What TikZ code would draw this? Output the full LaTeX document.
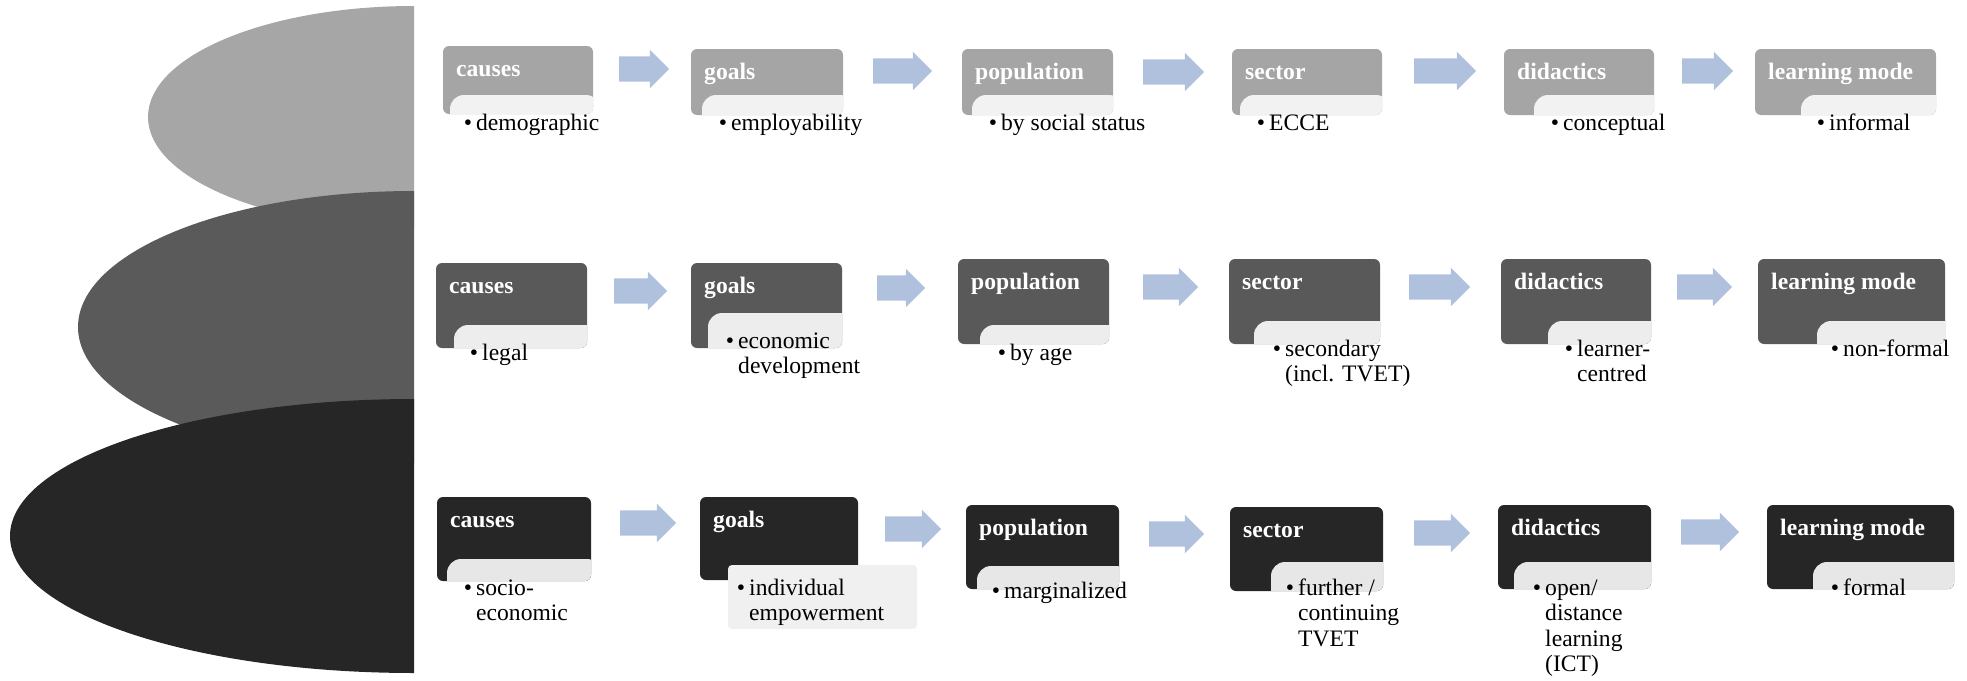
\documentclass[tikz,border=0pt]{standalone}
\usepackage{fontspec}
\setmainfont{Liberation Serif}
\usetikzlibrary{shapes.arrows}
\definecolor{ringA}{HTML}{A6A6A6}
\definecolor{ringB}{HTML}{5A5A5A}
\definecolor{ringC}{HTML}{262626}
\definecolor{boxA}{HTML}{A5A5A5}
\definecolor{boxB}{HTML}{595959}
\definecolor{boxC}{HTML}{262626}
\definecolor{stripA}{HTML}{F2F2F2}
\definecolor{stripB}{HTML}{EDEDED}
\definecolor{stripC}{HTML}{E7E7E7}
\definecolor{note}{HTML}{F0F0F0}
\definecolor{flowblue}{HTML}{B0C1DD}
\newcommand{\bodyfont}{\fontsize{23.6pt}{25.5pt}\selectfont}
\begin{document}
\begin{tikzpicture}[x=1pt,y=-1pt,font=\bodyfont,
	box/.style={rounded corners=6pt,inner sep=0pt,outer sep=0pt,anchor=north west},
	head/.style={font=\bodyfont\bfseries,text=white,anchor=base west,inner sep=0pt},
	item/.style={font=\bodyfont,align=left,anchor=north west,inner sep=0pt},
	flow/.style={single arrow,single arrow head extend=6.5pt,inner xsep=0pt,inner ysep=12.5pt,outer sep=0pt,anchor=tail,fill=flowblue}]
	\useasboundingbox (0,0) rectangle (1967,680);
	% half discs on the left
	\begin{scope}
		\clip (0,0) rectangle (414,680);
		\fill[ringA] (414,117) ellipse [x radius=266pt,y radius=111pt];
		\fill[ringB] (414,327) ellipse [x radius=336pt,y radius=136pt];
		\fill[ringC] (414,536) ellipse [x radius=404pt,y radius=137pt];
	\end{scope}
	% stages: name/x/y/w/h/strip x/strip y/head/text x/text y/text/colour
	\foreach \nm/\bx/\by/\bw/\bh/\sx/\sy/\hd/\tx/\ty/\txt/\col in {
		c1/443/46/150/68/450/95/causes/476/130/demographic/A,
		g1/691/49/152/66/702/95/goals/731/130/employability/A,
		p1/962/49/151/66/972/95/population/1001/130/by social status/A,
		s1/1232/49/150/66/1240/95/sector/1269/130/ECCE/A,
		d1/1504/49/150/66/1534/95/didactics/1563/130/conceptual/A,
		m1/1755/49/181/66/1801/95/learning mode/1829/130/informal/A,
		c2/436/263/151/85/454/325/causes/482/360/legal/B,
		g2/691/263/151/85/708/313/goals/738/348/{economic\\development}/B,
		p2/958/259/151/85/980/325/population/1010/360/by age/B,
		s2/1229/259/151/85/1254/321/sector/1285/356/{secondary\\(incl. TVET)}/B,
		d2/1501/259/150/85/1548/321/didactics/1577/356/{learner-\\centred}/B,
		m2/1758/259/187/85/1817/321/learning mode/1843/356/non-formal/B,
		c3/437/497/154/84/447/559/causes/476/595/{socio-\\economic}/C,
		p3/966/505/153/84/977/566/population/1004/598/marginalized/C,
		s3/1230/507/153/84/1271/562/sector/1298/595/{further /\\continuing\\TVET}/C,
		d3/1498/505/153/84/1514/562/didactics/1545/595/{open/\\distance\\learning\\(ICT)}/C,
		m3/1767/505/187/84/1813/562/learning mode/1843/595/formal/C}{
		\node[box,fill=box\col,minimum width=\bw*1pt,minimum height=\bh*1pt] (\nm) at (\bx,\by) {};
		\begin{scope}
			\clip[rounded corners=6pt] (\bx,\by) rectangle ++(\bw,\bh);
			\fill[strip\col,rounded corners=14pt] (\sx,\sy) rectangle ++(\bw,\bh);
		\end{scope}
		\node[head] (\nm-h) at ([shift={(13pt,-30pt)}]\nm.north west) {\hd};
		\node[item] (\nm-t) at ([yshift=17.85pt]\tx,\ty) {\llap{\textbullet\kern4pt}\strut\txt};
	}
	% goals of the last row has its own note box
	\node[box,fill=boxC,minimum width=158pt,minimum height=83pt] (g3) at (700,497) {};
	\node[box,fill=note,rounded corners=4pt,minimum width=189pt,minimum height=64pt] (g3-n) at (728,565) {};
	\node[head] (g3-h) at ([shift={(13pt,-30pt)}]g3.north west) {goals};
	\node[item] (g3-t) at ([yshift=17.85pt]749,595) {\llap{\textbullet\kern4pt}\strut individual\\empowerment};
	% block arrows, placed by their tails
	\foreach \nm/\ax/\ay/\al in {a11/619/69/50,a12/873/71/59,a13/1143/72/61,a14/1414/71/62,a15/1682/71/51,
		a21/614/291/53,a22/877/288/48,a23/1143/287/55,a24/1409/287/61,a25/1677/287/55,
		a31/620/523/56,a32/885/529/56,a33/1149/534/55,a34/1414/533/56,a35/1681/532/58}
		\node[flow,minimum height=\al*1pt] (\nm) at (\ax,\ay) {};
\end{tikzpicture}
\end{document}
